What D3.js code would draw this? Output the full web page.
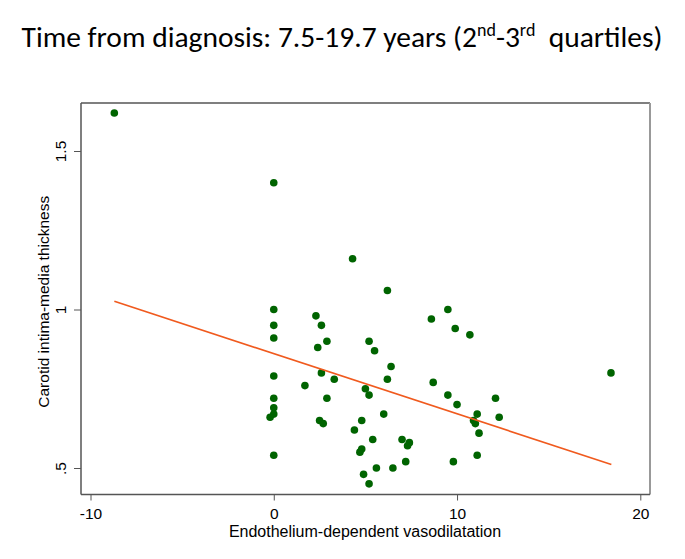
<!DOCTYPE html>
<html>
<head>
<meta charset="utf-8">
<script src="https://cdn.jsdelivr.net/npm/d3@7"></script>
<style>
  html, body { margin: 0; padding: 0; background: #fff; }
  svg { display: block; }
</style>
</head>
<body>
<svg id="chart" width="685" height="559"></svg>
<script>
// ---- Data ----
const edv = [-8.7, 0, 4.3, 6.2, 0, 0, 0, 2.3, 2.6, 2.9, 2.4, 5.2, 5.5, 2.6, 3.3, 1.7, 0, 5.0, 5.2, 2.9,
             0, 0, 0, -0.2, 2.5, 2.7, 4.8, 4.4, 5.4, 4.8, 4.7, 0, 4.9, 5.2, 5.6, 9.5, 8.6, 9.9, 10.7, 6.4,
             6.2, 8.7, 9.5, 10.0, 12.1, 11.1, 12.3, 10.9, 11.0, 11.2, 6.0, 7.0, 7.4, 7.3, 11.1, 9.8, 7.2, 6.5, 18.4];
const cimt = [1.62, 1.40, 1.16, 1.06, 1.00, 0.95, 0.91, 0.98, 0.95, 0.90, 0.88, 0.90, 0.87, 0.80, 0.78, 0.76, 0.79, 0.75, 0.73, 0.72,
              0.72, 0.69, 0.67, 0.66, 0.65, 0.64, 0.65, 0.62, 0.59, 0.56, 0.55, 0.54, 0.48, 0.45, 0.50, 1.00, 0.97, 0.94, 0.92, 0.82,
              0.78, 0.77, 0.73, 0.70, 0.72, 0.67, 0.66, 0.65, 0.64, 0.61, 0.67, 0.59, 0.58, 0.57, 0.54, 0.52, 0.52, 0.50, 0.80];
const fitX = [-8.7, 18.42];
const fitY = [1.026, 0.511];
const xTicks = [-10, 0, 10, 20];
const xTickLabels = ["-10", "0", "10", "20"];
const yTicks = [0.5, 1, 1.5];
const yTickLabels = [".5", "1", "1.5"];
const titleText = "Time from diagnosis: 7.5-19.7 years (2";
const xTitle = "Endothelium-dependent vasodilatation";
const yTitle = "Carotid intima-media thickness";

// ---- Layout ----
const svg = d3.select("#chart");
const frame = { left: 81, right: 650, top: 103, bottom: 494.5 };
const x = d3.scaleLinear().domain([-10, 20]).range([90.5, 640.3]);
const y = d3.scaleLinear().domain([0.5, 1.5]).range([468, 151]);
const axisFont = "'Liberation Sans', Arimo, Arial, sans-serif";

// Title
const t = svg.append("text")
  .attr("x", 342).attr("y", 47)
  .attr("text-anchor", "middle")
  .attr("font-family", "Carlito, Lato, 'Open Sans', sans-serif")
  .attr("font-size", 29.5)
  .attr("fill", "#000");
t.append("tspan").text(titleText);
t.append("tspan").attr("font-size", 18).attr("dy", -11).text("nd");
t.append("tspan").attr("dy", 11).text("-3");
t.append("tspan").attr("font-size", 18).attr("dy", -11).text("rd");
t.append("tspan").attr("dy", 11).text("\u00a0 quartiles)");

// Frame
svg.append("line").attr("x1", frame.left).attr("x2", frame.right).attr("y1", frame.top).attr("y2", frame.top)
  .attr("stroke", "#555").attr("stroke-width", 1.5);
svg.append("line").attr("x1", frame.right).attr("x2", frame.right).attr("y1", frame.top).attr("y2", frame.bottom)
  .attr("stroke", "#999").attr("stroke-width", 2);

// Axes
const xAxis = d3.axisBottom(x).tickValues(xTicks).tickSize(6).tickSizeOuter(0)
  .tickFormat((d, i) => xTickLabels[i]);
const gx = svg.append("g").attr("transform", `translate(0,${frame.bottom})`).call(xAxis);
gx.select(".domain").attr("d", `M${frame.left},0H${frame.right}`).attr("stroke", "#555").attr("stroke-width", 1.5);
gx.selectAll(".tick line").attr("stroke", "#555");
gx.selectAll(".tick text").attr("font-family", axisFont).attr("font-size", 15.5).attr("fill", "#000")
  .attr("y", 24.5).attr("dy", null);

const yAxis = d3.axisLeft(y).tickValues(yTicks).tickSize(7).tickSizeOuter(0)
  .tickFormat((d, i) => yTickLabels[i]);
const gy = svg.append("g").attr("transform", `translate(${frame.left},0)`).call(yAxis);
gy.select(".domain").attr("d", `M0,${frame.top}V${frame.bottom}`).attr("stroke", "#555").attr("stroke-width", 1.5);
gy.selectAll(".tick line").attr("stroke", "#555");
gy.selectAll(".tick text")
  .attr("font-family", axisFont).attr("font-size", 15.5).attr("fill", "#000")
  .attr("x", null).attr("dy", null)
  .attr("text-anchor", "middle")
  .attr("transform", "translate(-15.3,0) rotate(-90)");

// Axis titles
svg.append("text").attr("x", 365).attr("y", 537).attr("text-anchor", "middle")
  .attr("font-family", axisFont).attr("font-size", 16).attr("fill", "#000").text(xTitle);
svg.append("text").attr("transform", `translate(49,${(frame.top + frame.bottom) / 2 + 3}) rotate(-90)`)
  .attr("text-anchor", "middle")
  .attr("font-family", axisFont).attr("font-size", 15.5).attr("fill", "#000").text(yTitle);

// Points
const pts = edv.map((v, i) => ({ x: v, y: cimt[i] }));
svg.append("g").selectAll("circle").data(pts).join("circle")
  .attr("cx", d => x(d.x)).attr("cy", d => y(d.y)).attr("r", 3.8)
  .attr("fill", "#006400");

// Fitted line
const fit = fitX.map((v, i) => [v, fitY[i]]);
svg.append("path").datum(fit)
  .attr("d", d3.line().x(d => x(d[0])).y(d => y(d[1])))
  .attr("fill", "none").attr("stroke", "#F05A1E").attr("stroke-width", 1.7);
</script>
</body>
</html>
